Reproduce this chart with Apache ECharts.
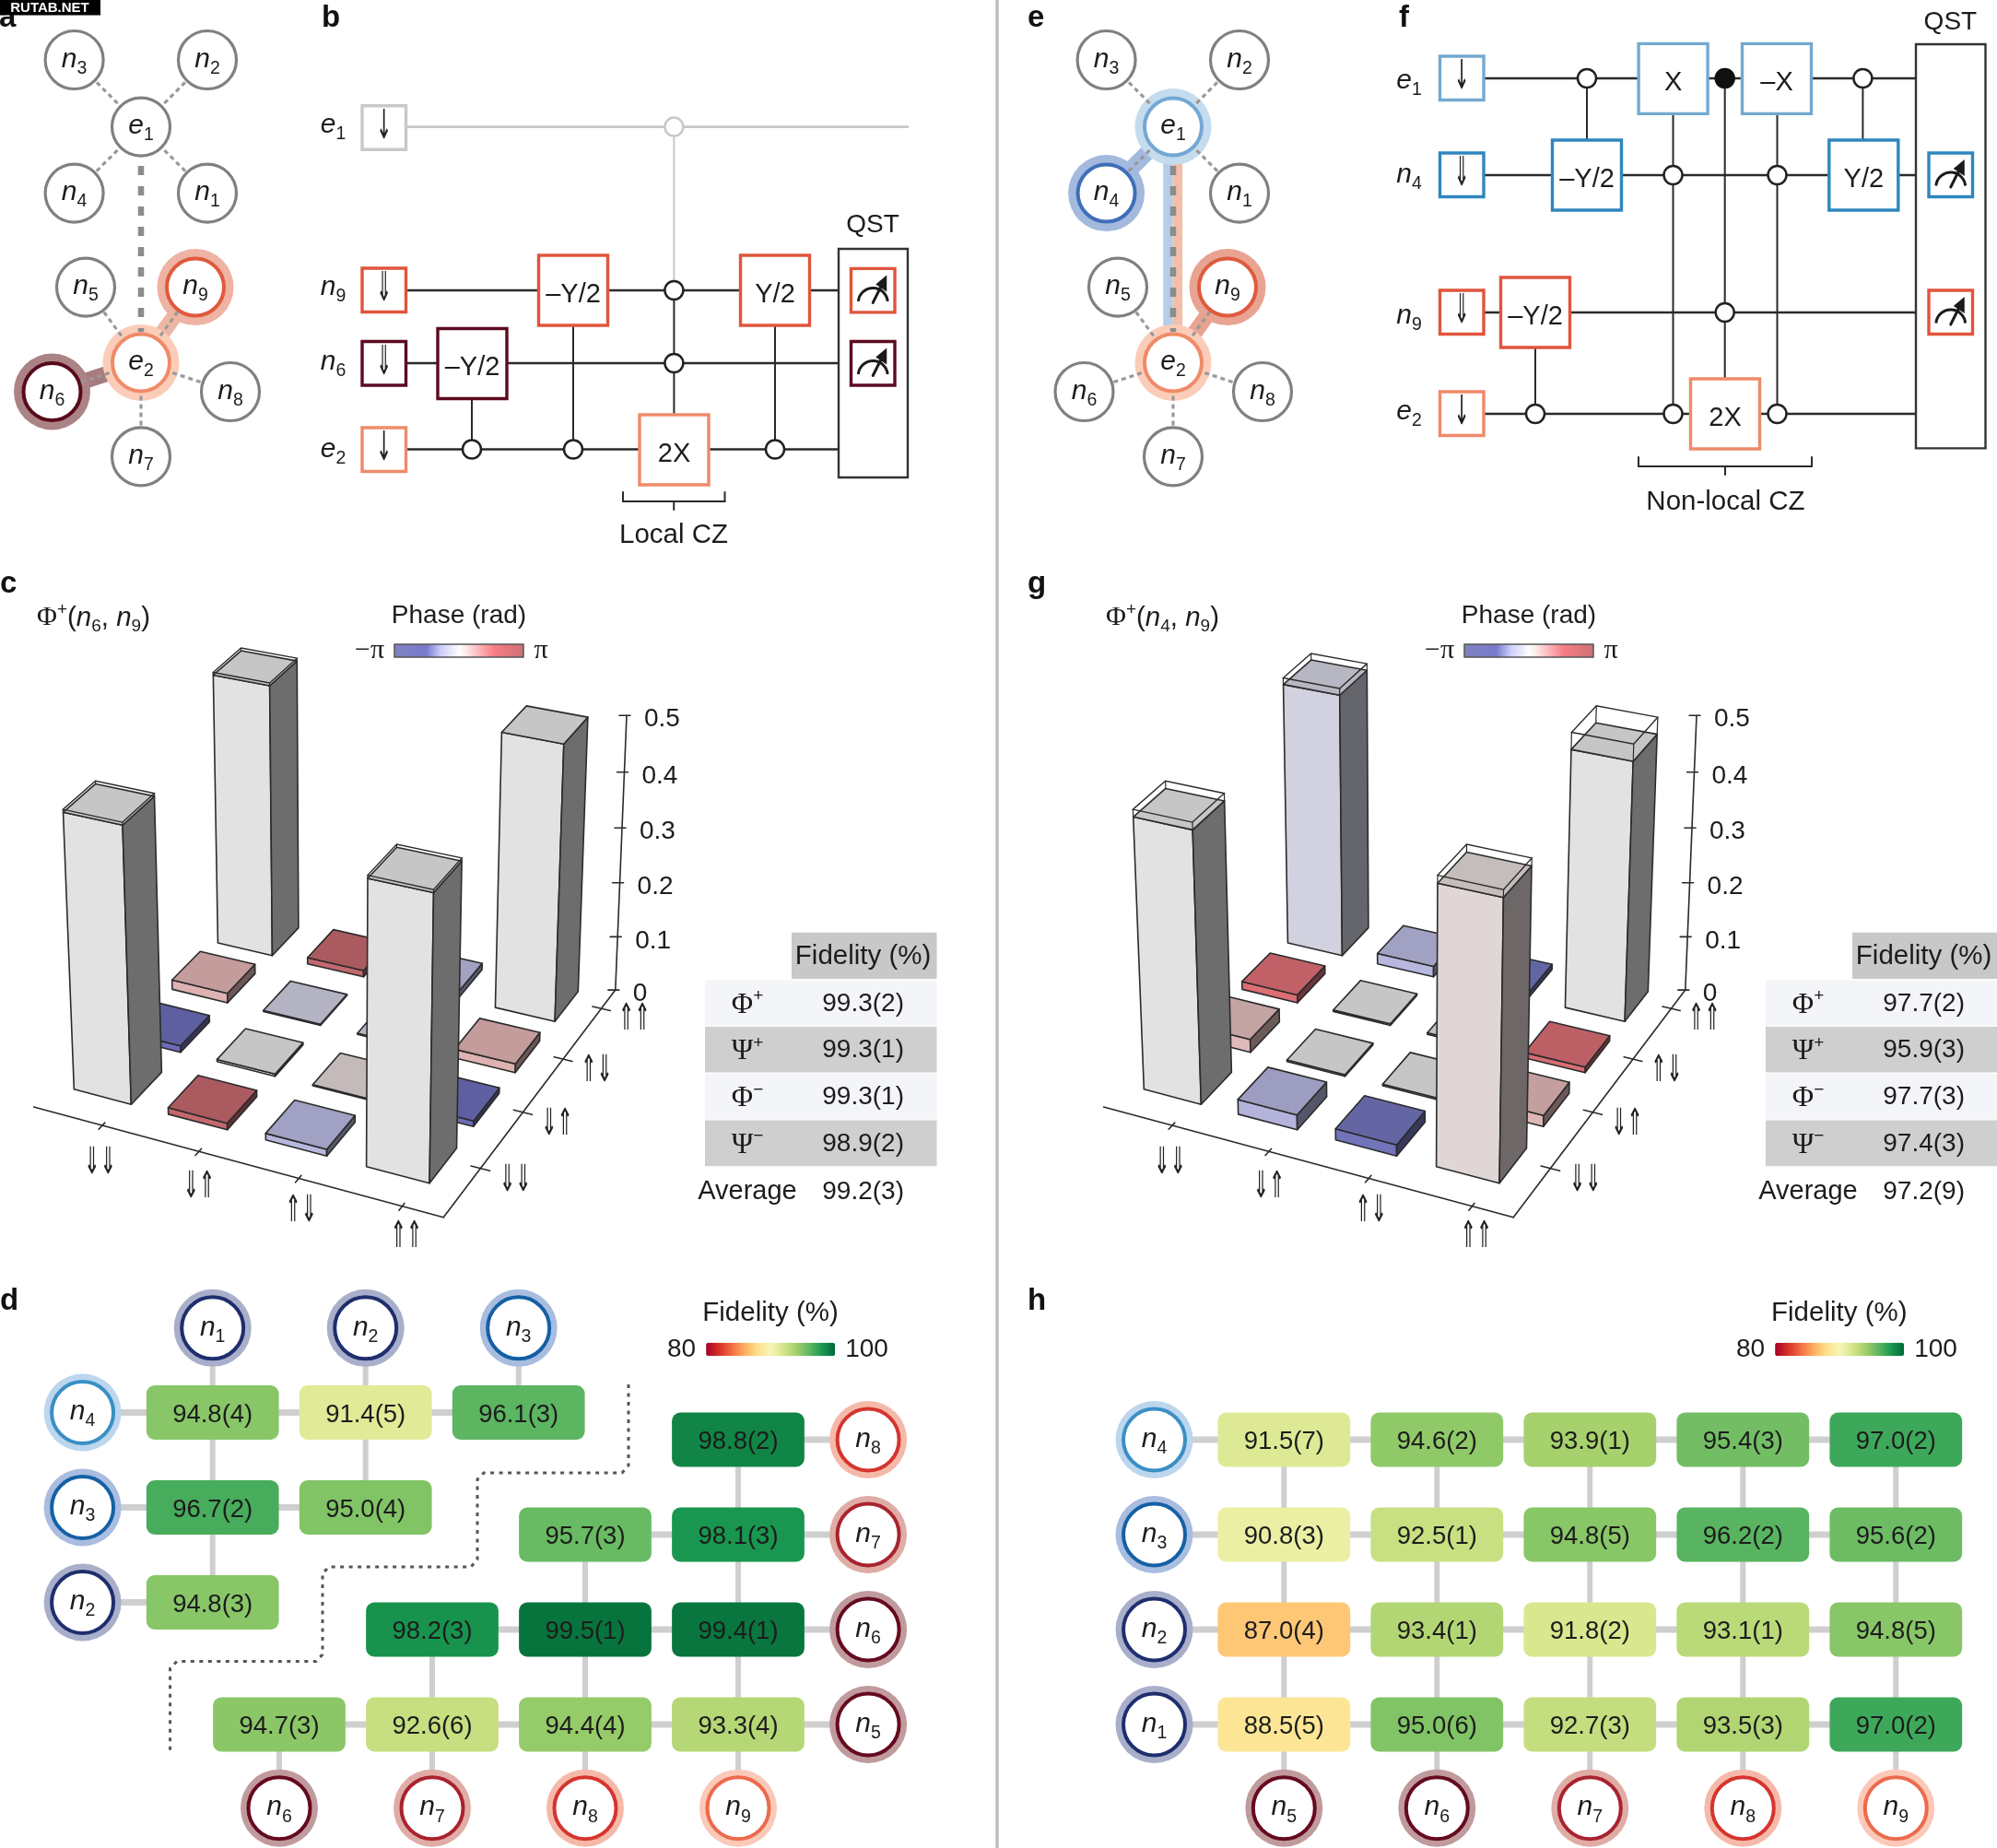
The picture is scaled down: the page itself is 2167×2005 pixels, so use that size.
<!DOCTYPE html>
<html><head><meta charset="utf-8">
<style>html,body{margin:0;padding:0;background:#fff}#main{width:2167px;height:2005px}</style>
<script src="https://cdn.jsdelivr.net/npm/echarts@6/dist/echarts.min.js"></script>
</head><body><div id="main"></div>
<script>
// ---------- DATA ----------
// 3D density-matrix bars: rows run from back (v=3) to front (v=0), columns u=0..3
const heightsC = [[0.505,0.012,0.012,0.5],[0.018,0.002,0.002,0.016],[0.012,0.004,0.002,0.01],[0.495,0.012,0.012,0.495]];
const phasesC  = [[0,2.6,-0.85,0],[0.75,-0.4,-0.35,0.75],[-1.6,0,0.3,-1.6],[0,2.6,-0.85,0]];
const idealC   = [[0.51,0,0,0.5],[0,0,0,0],[0,0,0,0],[0.5,0,0,0.5]];
const heightsG = [[0.488,0.02,0.01,0.47],[0.015,0.003,0.003,0.01],[0.024,0.003,0.003,0.02],[0.487,0.027,0.02,0.487]];
const phasesG  = [[-0.3,-0.85,-1.5,0],[1.7,0,-0.1,1.85],[0.65,0,0,0.7],[0,-0.9,-1.5,0.25]];
const idealG   = [[0.5,0,0,0.5],[0,0,0,0],[0,0,0,0],[0.5,0,0,0.5]];
const stateLabels = ['⇓⇓','⇓⇑','⇑⇓','⇑⇑'];
const zTicks = [0,0.1,0.2,0.3,0.4,0.5];
const zTickLabels = ['0','0.1','0.2','0.3','0.4','0.5'];
// Bell-state fidelity tables
const bellNames = [['Φ','+'],['Ψ','+'],['Φ','−'],['Ψ','−']];
const fidelityC = ['99.3(2)','99.3(1)','99.3(1)','98.9(2)'];
const averageC = '99.2(3)';
const fidelityG = ['97.7(2)','95.9(3)','97.7(3)','97.4(3)'];
const averageG = '97.2(9)';
// Fidelity grids
const localUpper = [['94.8(4)','91.4(5)','96.1(3)'],['96.7(2)','95.0(4)',null],['94.8(3)',null,null]];
const localUpperRowNodes = ['4','3','2'];
const localUpperColNodes = ['1','2','3'];
const localLower = [[null,null,null,'98.8(2)'],[null,null,'95.7(3)','98.1(3)'],[null,'98.2(3)','99.5(1)','99.4(1)'],['94.7(3)','92.6(6)','94.4(4)','93.3(4)']];
const localLowerRowNodes = ['8','7','6','5'];
const localLowerColNodes = ['6','7','8','9'];
const nonLocal = [['91.5(7)','94.6(2)','93.9(1)','95.4(3)','97.0(2)'],['90.8(3)','92.5(1)','94.8(5)','96.2(2)','95.6(2)'],['87.0(4)','93.4(1)','91.8(2)','93.1(1)','94.8(5)'],['88.5(5)','95.0(6)','92.7(3)','93.5(3)','97.0(2)']];
const nonLocalRowNodes = ['4','3','2','1'];
const nonLocalColNodes = ['5','6','7','8','9'];
const fidelityScale = ['#a50026','#d73027','#f46d43','#fdae61','#fee08b','#f7f6b6','#d6e58a','#a3d06a','#5fb762','#1a9850','#006837'];

// ---------- STYLE ----------
const SANS='"Liberation Sans",Arial,sans-serif', SERIF='"Liberation Serif",serif', ARROW='"DejaVu Sans",sans-serif';
const INK='#1c1c1c';
const nodeStyle={1:['#1e2e6e','#a9afca'],2:['#1e2e6e','#a9afca'],3:['#1560a5','#a9bde0'],4:['#3a8fc4','#bcd6ee'],
  5:['#650a20','#c09a9c'],6:['#650a20','#c09a9c'],7:['#a9232f','#dfaca6'],8:['#d5352f','#f5b9a9'],9:['#ec6a4d','#fbc9b8']};
const phaseStops=[[-3.1416,[127,130,190]],[-1.57,[120,122,205]],[-0.85,[207,207,250]],[-0.35,[232,232,250]],[0,[254,254,254]],[0.3,[252,238,238]],[0.75,[251,200,200]],[1.7,[247,124,132]],[3.1416,[203,112,118]]];

function phaseRGB(p){for(let i=1;i<phaseStops.length;i++){const a=phaseStops[i-1],b=phaseStops[i];if(p<=b[0]){const t=(p-a[0])/(b[0]-a[0]);return a[1].map((v,k)=>v+(b[1][k]-v)*t);}}return phaseStops[phaseStops.length-1][1];}
const shade=(c,f)=>`rgb(${c.map(v=>Math.round(v*f)).join(',')})`;

// ---------- TEXT HELPERS ----------
const measureCtx=document.createElement('canvas').getContext('2d');
function fontStr(o){return `${o.italic?'italic ':''}${o.weight?o.weight+' ':''}${o.size||28}px ${o.family||SANS}`;}
function T(x,y,text,o={}){
  return {type:'text',x,y:y+1.5,silent:true,scaleX:o.scaleX||1,scaleY:o.scaleY||1,style:{text,x:0,y:0,fill:o.fill||INK,fontSize:o.size||28,fontFamily:o.family||SANS,
    fontStyle:o.italic?'italic':'normal',fontWeight:o.weight||'normal',textAlign:o.align||'center',textVerticalAlign:'middle',verticalAlign:'middle'}};
}
function runs(x,y,list,align){
  let w=list.map(r=>{measureCtx.font=fontStr(r);return measureCtx.measureText(r.t).width;});
  const tot=w.reduce((a,b)=>a+b,0);let cx=align==='center'?x-tot/2:x;const out=[];
  list.forEach((r,i)=>{out.push(T(cx,y+(r.dy||0),r.t,Object.assign({},r,{align:'left'})));cx+=w[i];});
  return out;
}
const nSub=(x,y,sym,sub)=>runs(x,y,[{t:sym,italic:true,size:30,dy:-2},{t:sub,size:19.5,dy:8}],'center');

// ---------- 3D PROJECTION ----------
const floorQuad=[[128,1172.6],[446.7,1255.7],[582.5,1084.4],[280.3,1014.8]];
const vanish=[366,8440], liftK=-0.0801, BAR_HALF=0.305, PANEL_G_SHIFT=1161;
const H=(function(){const [p0,p1,p2,p3]=floorQuad;
  const dx1=p1[0]-p2[0],dx2=p3[0]-p2[0],sx=p0[0]-p1[0]+p2[0]-p3[0],dy1=p1[1]-p2[1],dy2=p3[1]-p2[1],sy=p0[1]-p1[1]+p2[1]-p3[1];
  const det=dx1*dy2-dx2*dy1,g=(sx*dy2-dx2*sy)/det,h=(dx1*sy-sx*dy1)/det;
  return {a:p1[0]-p0[0]+g*p1[0],b:p3[0]-p0[0]+h*p3[0],c:p0[0],d:p1[1]-p0[1]+g*p1[1],e:p3[1]-p0[1]+h*p3[1],f:p0[1],g,h};})();
function project(shift,u,v,z){const s=u/3,t=v/3,w=H.g*s+H.h*t+1,X=(H.a*s+H.b*t+H.c)/w,Y=(H.d*s+H.e*t+H.f)/w,r=liftK*z/w;
  return [(X+r*vanish[0])/(1+r)+shift,(Y+r*vanish[1])/(1+r)];}
function cellsOf(hs,ps,ideal){const out=[];hs.forEach((row,ri)=>row.forEach((h,u)=>{const v=3-ri;out.push([u,v,h,ps[ri][u],ideal[ri][u]]);}));return out;}
function bar3d(shift){return function(params,api){
  const u=api.value(0),v=api.value(1),h=api.value(2),col=phaseRGB(api.value(3)),ideal=api.value(4),w=BAR_HALF;
  const P=(a,b,z)=>api.coord(project(shift,a,b,z));
  const A=[u-w,v-w],B=[u+w,v-w],C=[u+w,v+w],D=[u-w,v+w];
  const edge={stroke:'#2b2b2b',lineWidth:1.6,lineJoin:'round'};
  const poly=(pts,f)=>({type:'polygon',silent:true,shape:{points:pts},style:Object.assign({fill:f},edge)});
  const ch=[
    poly([P(...A,0),P(...B,0),P(...B,h),P(...A,h)],shade(col,0.89)),
    poly([P(...B,0),P(...C,0),P(...C,h),P(...B,h)],shade(col,0.43)),
    poly([P(...A,h),P(...B,h),P(...C,h),P(...D,h)],shade(col,0.78))];
  if(ideal>h){
    ch.push({type:'polygon',silent:true,shape:{points:[P(...A,ideal),P(...B,ideal),P(...C,ideal),P(...D,ideal)]},style:{fill:'none',stroke:'#2b2b2b',lineWidth:1.4}});
    [A,B,C,D].forEach(q=>{const a=P(...q,h),b=P(...q,ideal);ch.push({type:'line',silent:true,shape:{x1:a[0],y1:a[1],x2:b[0],y2:b[1]},style:{stroke:'#2b2b2b',lineWidth:1.2}});});
  }
  return {type:'group',children:ch};
};}

// ---------- GRAPHIC ELEMENTS ----------
const G=[];
const line=(x1,y1,x2,y2,stroke,lw,dash)=>G.push({type:'line',silent:true,shape:{x1,y1,x2,y2},style:{stroke,lineWidth:lw,lineDash:dash||null,lineCap:dash?'butt':'round'}});
const box=(x,y,w,h,stroke,lw,fill)=>G.push({type:'rect',silent:true,shape:{x,y,width:w,height:h},style:{stroke:stroke||'none',lineWidth:lw||0,fill:fill||'#fff'}});
const disc=(x,y,r,fill,stroke,lw)=>G.push({type:'circle',silent:true,shape:{cx:x,cy:y,r},style:{fill,stroke:stroke||'none',lineWidth:lw||0}});
const letter=(x,y,t)=>G.push(T(x,y-12,t,{size:33,weight:'bold',align:'left',fill:'#111'}));

// divider
line(1082,0,1082,2005,'#bdbdbd',3.4);

// ---- network panels a, e ----
const netPos={n3:[80.6,65],n2:[225,65],e1:[153,137.6],n4:[80.6,209.6],n1:[225,209.6],n5:[93,311.6],n9:[212,311.6],e2:[153,393.4],n6:[56.5,425],n8:[250,425],n7:[153,495.4]};
const netEdges=[['e1','n1'],['e1','n2'],['e1','n3'],['e1','n4'],['e2','n5'],['e2','n6'],['e2','n7'],['e2','n8'],['e2','n9']];
function network(dx,halos,links){
  const p=k=>[netPos[k][0]+dx,netPos[k][1]];
  links.forEach(l=>{const a=p(l[0]),b=p(l[1]);line(a[0],a[1],b[0],b[1],l[2],17);});
  if(dx){box(1262.3,150,10.4,220,null,0,'#b5cde8');box(1272.7,150,10.4,220,null,0,'#f4bfaa');}
  Object.keys(halos).forEach(k=>{const a=p(k);disc(a[0],a[1],41.5,halos[k][1]);});
  netEdges.forEach(e=>{const a=p(e[0]),b=p(e[1]);line(a[0],a[1],b[0],b[1],'#999999',3.2,[5,4]);});
  line(153+dx,180,153+dx,360,'#8c8c8c',6.5,[10,12]);
  Object.keys(netPos).forEach(k=>{const a=p(k),hl=halos[k];
    disc(a[0],a[1],hl?31:31.5,'#fff',hl?hl[0]:'#808080',hl?4:3.2);
    G.push(...nSub(a[0],a[1],k[0],k[1]));});
}
network(0,{n9:['#df5a3e','#eeb3a2'],e2:['#f08a68','#fbcdb9'],n6:['#5a0a1d','#ab8385']},[['n9','e2','#efb5a3'],['n6','e2','#a67c7e']]);
network(1120,{n4:['#3f6fb8','#a3b9de'],e1:['#74a7d4','#c5dcee'],n9:['#df5a3e','#e9a391'],e2:['#f08a68','#fbcdb9']},[['n4','e1','#a3b9de'],['n9','e2','#e9a391']]);

// ---- circuits ----
const C_GREY='#c8c8c8',C_E1='#74a9cf',C_N4='#2f86bd',C_N9='#e0553c',C_N6='#5d0a20',C_E2='#ef8a6a',WIRE='#2a2a2a';
function gate(cx,y0,stroke,text,w,h){w=w||75;h=h||76;box(cx-w/2,y0,w,h,stroke,3.4);G.push(T(cx,y0+h/2+3,text,{size:29}));}
function initBox(x,y,stroke,arrow){box(x,y,47.5,47.5,stroke,3.4);G.push(T(x+23.75,y+22.5,arrow,{size:44,family:ARROW,scaleX:0.46,fill:'#222'}));}
function ctrl(x,y,c,filled){disc(x,y,10,filled?'#111':'#fff',c||'#222',2.5);}
function meter(x,y,stroke){box(x,y,47.5,47.5,stroke,3.4);const cx=x+23.75,cy=y+37;
  G.push({type:'arc',silent:true,shape:{cx:cx,cy:cy,r:16,startAngle:Math.PI*1.03,endAngle:Math.PI*1.97},style:{stroke:'#1a1a1a',lineWidth:3,fill:'none'}});
  line(cx,cy,cx+10,cy-20,'#1a1a1a',3);
  G.push({type:'polygon',silent:true,shape:{points:[[cx+15,cy-30],[cx+15,cy-12],[cx+3,cy-20]]},style:{fill:'#1a1a1a'}});}
function bracket(x1,x2,y){line(x1,y,x1,y+10,WIRE,2);line(x1,y+10,x2,y+10,WIRE,2);line(x2,y,x2,y+10,WIRE,2);line((x1+x2)/2,y+10,(x1+x2)/2,y+19,WIRE,2);}

// panel b
[[137.6,C_GREY,985],[315,WIRE,910],[394,WIRE,910],[487.5,WIRE,910]].forEach(w=>line(441,w[0],w[2],w[0],w[1],2.6));
line(731.4,137.6,731.4,315,C_GREY,2);line(731.4,315,731.4,450,WIRE,2);
line(512,432,512,487.5,WIRE,2);line(622,352,622,487.5,WIRE,2);line(841,352,841,487.5,WIRE,2);
[['e','1',136,C_GREY,114.7,'↓'],['n','9',312,C_N9,291,'⇓'],['n','6',393,C_N6,370.5,'⇓'],['e','2',488,C_E2,464,'↓']].forEach(r=>{
  G.push(...nSub(361.6,r[2],r[0],r[1]));initBox(393,r[4],r[3],r[5]);});
gate(512.5,356.5,C_N6,'–Y/2');gate(622,277,C_N9,'–Y/2');gate(841,277,C_N9,'Y/2');gate(731.5,450,C_E2,'2X');
ctrl(731.4,137.6,C_GREY);ctrl(731.4,315);ctrl(731.4,394);ctrl(512,487.5);ctrl(622,487.5);ctrl(841,487.5);
box(910,270,75,248,'#333',2.4,'#fff');meter(923.5,291.4,C_N9);meter(923.5,370.5,C_N6);
G.push(T(947,243,'QST'));bracket(676,786.5,534);G.push(T(731,579,'Local CZ',{size:29.5}));

// panel f
[85,190,339,449].forEach(y=>line(1610,y,2079,y,WIRE,2.6));
line(1815.5,123,1815.5,449,WIRE,2);line(1928.5,123,1928.5,449,WIRE,2);line(1871.7,85,1871.7,411,WIRE,2);
line(1722,85,1722,152,WIRE,2);line(2021.4,85,2021.4,152,WIRE,2);line(1666,377,1666,449,WIRE,2);
[['e','1',88,C_E1,61,'↓'],['n','4',190.6,C_N4,166,'⇓'],['n','9',343,C_N9,315,'⇓'],['e','2',447,C_E2,425,'↓']].forEach(r=>{
  G.push(...nSub(1529,r[2],r[0],r[1]));initBox(1562.5,r[4],r[3],r[5]);});
gate(1722,152,C_N4,'–Y/2');gate(1815.6,47.4,C_E1,'X');gate(1928,47.4,C_E1,'–X');gate(2022.3,152,C_N4,'Y/2');gate(1666,301,C_N9,'–Y/2');gate(1872,411,C_E2,'2X');
ctrl(1722,85);ctrl(2021.4,85);ctrl(1871.7,85,'#111',true);ctrl(1815.5,190);ctrl(1928.5,190);ctrl(1871.7,339);ctrl(1815.5,449);ctrl(1928.5,449);ctrl(1666,449);
box(2079,48,75.5,438.4,'#333',2.4,'#fff');meter(2093,166,C_N4);meter(2093,315,C_N9);
G.push(T(2116.4,23,'QST'));bracket(1778,1966,496);G.push(T(1872.4,543,'Non-local CZ',{size:29.5}));

// ---- 3D panel furniture & tables ----
function axes3d(shift,labelB,tableVals,avg,titleLeft){
  const P=(u,v,z)=>project(shift,u,v,z||0);
  const seg=(a,b,lw)=>line(a[0],a[1],b[0],b[1],'#2a2a2a',lw||1.6);
  seg(P(-0.5,-0.73),P(3.62,-0.73));seg(P(3.62,-0.73),P(3.62,3.48));
  stateLabels.forEach((s,i)=>{
    seg(P(i+0.23,-0.8),P(i+0.23,-0.68));seg(P(3.53,i+0.1),P(3.71,i+0.1));
    const a=P(i+0.5-0.02*i,-1.27+0.05*i),b=P(3.95,i+0.1);
    G.push(T(a[0],a[1],s,{size:40,family:ARROW,scaleX:0.52,fill:'#222'}));
    G.push(T(b[0],b[1]+3,s,{size:40,family:ARROW,scaleX:0.52,fill:'#222'}));
  });
  const z0=P(3.62,3.48,0),z1=P(3.62,3.48,0.5);seg(z0,z1);
  zTicks.forEach((t,i)=>{const q=P(3.62,3.48,t);seg([q[0]-8,q[1]],[q[0]+4,q[1]]);
    G.push(T(q[0]+19,q[1]+3,zTickLabels[i],{align:'left'}));});
  // title and colour bar
  G.push(...runs(titleLeft,669,[{t:'Φ',family:SERIF,size:30},{t:'+',size:19,dy:-9},{t:'(',size:29.5},{t:'n',italic:true,size:29.5},
    {t:labelB[0],size:19,dy:9},{t:', ',size:29.5},{t:'n',italic:true,size:29.5},{t:labelB[1],size:19,dy:9},{t:')',size:29.5}]));
  const dx=shift;
  G.push(T(498+dx,667,'Phase (rad)'));
  const stops=phaseStops.map(s=>({offset:(s[0]+3.1416)/6.2832,color:shade(s[1],1)}));
  G.push({type:'rect',silent:true,shape:{x:428+dx,y:699,width:140,height:14},style:{fill:new echarts.graphic.LinearGradient(0,0,1,0,stops),stroke:'#555',lineWidth:1.5}});
  G.push(T(401+dx,705,'−π',{family:SERIF,size:30}));G.push(T(587+dx,705,'π',{family:SERIF,size:30}));
  // table
  const tx=shift?shift-10:0;
  box(859+tx,1011.7,157.5,50.3,null,0,'#c8c8c8');G.push(T(936.6+tx,1036,'Fidelity (%)',{size:29.5}));
  const rows=[1063.6,1114,1165,1215.6];
  tableVals.forEach((v,i)=>{box(765+tx,rows[i],251.5,49.6,null,0,i%2?'#cfcfcf':'#f3f5f8');
    G.push(...runs(811+tx,rows[i]+25,[{t:bellNames[i][0],family:SERIF,size:32},{t:bellNames[i][1],size:19,dy:-9}],'center'));
    G.push(T(936.6+tx,rows[i]+24,v));});
  G.push(T(811+tx,1291.6,'Average',{size:29}));G.push(T(936.6+tx,1291.6,avg));
}
axes3d(0,['6','9'],fidelityC,averageC,40);
axes3d(PANEL_G_SHIFT,['4','9'],fidelityG,averageG,1200);

// ---- fidelity grid furniture ----
G.push(T(836,1423,'Fidelity (%)',{size:29.5}));G.push(T(1995.8,1423,'Fidelity (%)',{size:29.5}));
const stair=[[682,1502],[682,1590],[675,1598],[525,1598],[518,1605],[518,1692],[511,1700],[357,1700],[350,1707],[350,1795],[343,1802.5],[192,1802.5],[184.6,1810],[184.6,1899]];
G.push({type:'polyline',silent:true,shape:{points:stair},style:{stroke:'#555',lineWidth:3,lineDash:[4,5.5],fill:'none'}});

// ---- panel letters + watermark ----
letter(-1,30,'a');
box(0,0,109,16.6,null,0,'#000');G.push(T(54,7,'RUTAB.NET',{size:15,weight:'bold',fill:'#fff'}));
letter(349,30,'b');letter(0,644,'c');letter(0,1422,'d');letter(1115,30,'e');letter(1518,30,'f');letter(1115,644,'g');letter(1115,1422,'h');

// ---------- FIDELITY GRIDS ----------
function parseCells(vals){const cells=[],labels=[];vals.forEach((row,r)=>row.forEach((s,c)=>{if(s!==null){cells.push([c,r,parseFloat(s)]);labels.push(s);}}));return {cells,labels};}
function connectors(vals,rowNodeCol,colNodeRow){const out=[];
  vals.forEach((row,r)=>{const cs=row.map((s,c)=>s===null?null:c).filter(c=>c!==null);out.push([Math.min(rowNodeCol,cs[0]),r,Math.max(rowNodeCol,cs[cs.length-1]),r]);});
  vals[0].forEach((_,c)=>{const rs=vals.map((row,r)=>row[c]===null?null:r).filter(r=>r!==null);out.push([c,Math.min(colNodeRow,rs[0]),c,Math.max(colNodeRow,rs[rs.length-1])]);});
  return out;}
function nodePoints(rowNodes,colNodes,rowNodeCol,colNodeRow){return rowNodes.map((n,r)=>[rowNodeCol,r,+n]).concat(colNodes.map((n,c)=>[c,colNodeRow,+n]));}

const grids=[{left:0,top:0,width:2167,height:2005}],xAxes=[{type:'value',min:0,max:2167,show:false,gridIndex:0}],yAxes=[{type:'value',min:0,max:2005,inverse:true,show:false,gridIndex:0}];
const series=[
  {type:'custom',coordinateSystem:'cartesian2d',xAxisIndex:0,yAxisIndex:0,clip:false,silent:true,encode:{x:0,y:1},data:cellsOf(heightsC,phasesC,idealC),renderItem:bar3d(0)},
  {type:'custom',coordinateSystem:'cartesian2d',xAxisIndex:0,yAxisIndex:0,clip:false,silent:true,encode:{x:0,y:1},data:cellsOf(heightsG,phasesG,idealG),renderItem:bar3d(PANEL_G_SHIFT)}
];
function addBlock(vals,rowNodes,colNodes,rowNodeCol,colNodeRow,box2,xr,yr){
  const gi=grids.length;grids.push(box2);
  xAxes.push({type:'value',min:xr[0],max:xr[1],show:false,gridIndex:gi});
  yAxes.push({type:'value',min:yr[0],max:yr[1],inverse:true,show:false,gridIndex:gi});
  const common={type:'custom',coordinateSystem:'cartesian2d',xAxisIndex:gi,yAxisIndex:gi,clip:false,silent:true};
  series.push(Object.assign({},common,{encode:{x:[0,2],y:[1,3]},data:connectors(vals,rowNodeCol,colNodeRow),renderItem(p,api){
    const a=api.coord([api.value(0),api.value(1)]),b=api.coord([api.value(2),api.value(3)]);
    return {type:'line',shape:{x1:a[0],y1:a[1],x2:b[0],y2:b[1]},style:{stroke:'#cfcfcf',lineWidth:a[1]===b[1]?7:6}};}}));
  const parsed=parseCells(vals);const idx=series.length;
  series.push(Object.assign({},common,{encode:{x:0,y:1},data:parsed.cells,renderItem(p,api){
    const c=api.coord([api.value(0),api.value(1)]),s=api.size([1,1]),w=s[0]*0.866,h=s[1]*0.573;
    return {type:'group',children:[{type:'rect',shape:{x:c[0]-w/2,y:c[1]-h/2,width:w,height:h,r:9},style:{fill:api.visual('color')}},
      T(c[0],c[1]+1,parsed.labels[p.dataIndex],{size:27.5})]};}}));
  series.push(Object.assign({},common,{encode:{x:0,y:1},data:nodePoints(rowNodes,colNodes,rowNodeCol,colNodeRow),renderItem(p,api){
    const c=api.coord([api.value(0),api.value(1)]),n=api.value(2),st=nodeStyle[n];
    return {type:'group',children:[{type:'circle',shape:{cx:c[0],cy:c[1],r:42},style:{fill:st[1]}},
      {type:'circle',shape:{cx:c[0],cy:c[1],r:33.5},style:{fill:'#fff',stroke:st[0],lineWidth:4}},...nSub(c[0],c[1],'n',String(n))]};}}));
  return idx;
}
const iUpper=addBlock(localUpper,localUpperRowNodes,localUpperColNodes,-0.85,-0.89,{left:64.7,top:1429.5,width:664,height:412},[-1,3],[-1,3]);
const iLower=addBlock(localLower,localLowerRowNodes,localLowerColNodes,3.85,3.88,{left:303,top:1562,width:664,height:412},[0,4],[0,4]);
const iNon=addBlock(nonLocal,nonLocalRowNodes,nonLocalColNodes,-0.848,3.88,{left:1227.3,top:1562,width:830,height:412},[-1,4],[0,4]);

const vmCommon={type:'continuous',min:80,max:100,orient:'horizontal',dimension:2,calculable:false,hoverLink:false,itemWidth:14.5,itemHeight:140,padding:0,text:['100','80'],textGap:11,
  textStyle:{fontSize:28,fontFamily:SANS,color:INK},inRange:{color:fidelityScale}};

const chart=echarts.init(document.getElementById('main'),null,{renderer:'canvas'});
chart.setOption({animation:false,backgroundColor:'#fff',grid:grids,xAxis:xAxes,yAxis:yAxes,series,graphic:{elements:G},
  visualMap:[Object.assign({},vmCommon,{left:724,top:1450,seriesIndex:[iUpper,iLower]}),Object.assign({},vmCommon,{left:1884,top:1450,seriesIndex:[iNon]})]});
</script></body></html>
